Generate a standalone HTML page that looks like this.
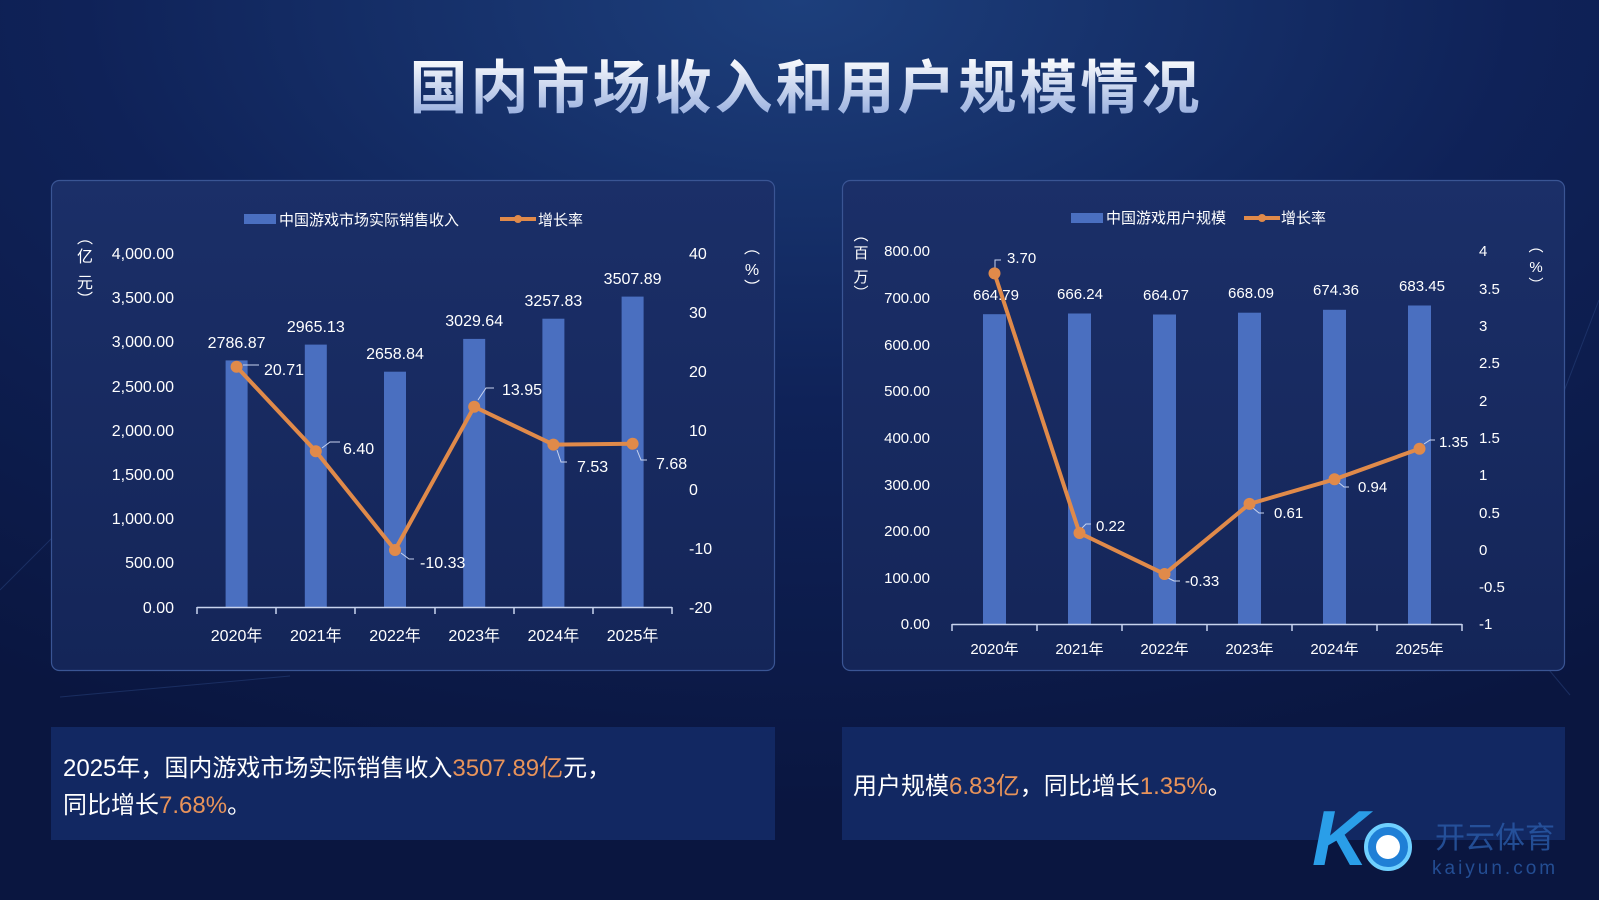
<!DOCTYPE html>
<html><head><meta charset="utf-8"><style>
html,body{margin:0;padding:0;width:1599px;height:900px;overflow:hidden;background:#0b1845;}
svg{display:block;font-family:"Liberation Sans","Noto Sans CJK SC",sans-serif;}
</style></head><body>
<svg width="1599" height="900" viewBox="0 0 1599 900" xmlns="http://www.w3.org/2000/svg">
<defs>
<radialGradient id="bg" cx="0.5" cy="0" r="0.9">
<stop offset="0" stop-color="#1d3f7c"/><stop offset="0.5" stop-color="#0f2258"/><stop offset="1" stop-color="#0a1640"/>
</radialGradient>
<linearGradient id="tt" x1="0" y1="0" x2="0" y2="1">
<stop offset="0" stop-color="#ffffff"/><stop offset="1" stop-color="#8fa8dc"/>
</linearGradient>
<linearGradient id="pn" x1="0" y1="0" x2="0" y2="1">
<stop offset="0" stop-color="#1b2f68"/><stop offset="1" stop-color="#142558"/>
</linearGradient>
</defs>
<rect width="1599" height="900" fill="url(#bg)"/>
<g stroke="#2a4580" stroke-width="1" opacity="0.5">
<line x1="0" y1="590" x2="110" y2="480"/><line x1="60" y1="697" x2="290" y2="676"/><line x1="1530" y1="480" x2="1599" y2="300"/><line x1="1440" y1="540" x2="1570" y2="695"/>
</g>
<text x="806" y="108" text-anchor="middle" font-size="58" font-weight="bold" fill="url(#tt)" letter-spacing="3">国内市场收入和用户规模情况</text>

<!-- Left panel -->
<rect x="51.5" y="180.5" width="723" height="490" rx="8" fill="url(#pn)" stroke="#3a5594" stroke-width="1.2"/>
<rect x="244" y="214" width="32" height="10" fill="#4a6fc0"/>
<text x="279" y="225" font-size="15" fill="#fff">中国游戏市场实际销售收入</text>
<line x1="500" y1="219" x2="536" y2="219" stroke="#e08a4a" stroke-width="4"/><circle cx="518" cy="219" r="4" fill="#e08a4a"/>
<text x="538" y="225" font-size="15" fill="#fff">增长率</text>
<g font-size="16" fill="#fff" text-anchor="end">
<text x="174" y="259">4,000.00</text><text x="174" y="303">3,500.00</text><text x="174" y="347">3,000.00</text><text x="174" y="392">2,500.00</text><text x="174" y="436">2,000.00</text><text x="174" y="480">1,500.00</text><text x="174" y="524">1,000.00</text><text x="174" y="568">500.00</text><text x="174" y="613">0.00</text>
</g>
<g font-size="16" fill="#fff">
<text x="689" y="259">40</text><text x="689" y="318">30</text><text x="689" y="377">20</text><text x="689" y="436">10</text><text x="689" y="495">0</text><text x="689" y="554">-10</text><text x="689" y="613">-20</text>
</g>
<g font-size="16" fill="#fff" text-anchor="middle">
<text x="85" y="243">︵</text><text x="85" y="262">亿</text><text x="85" y="288">元</text><text x="85" y="305">︶</text>
<text x="752" y="253">︵</text><text x="752" y="275">%</text><text x="752" y="293">︶</text>
</g>
<g fill="#4a6fc0">
<rect x="225.6" y="360.4" width="22" height="246.6"/><rect x="304.8" y="344.6" width="22" height="262.4"/><rect x="384" y="371.7" width="22" height="235.3"/><rect x="463.2" y="338.9" width="22" height="268.1"/><rect x="542.4" y="318.7" width="22" height="288.3"/><rect x="621.6" y="296.6" width="22" height="310.4"/>
</g>
<line x1="197" y1="607.5" x2="672" y2="607.5" stroke="#c8d3ee" stroke-width="1.5"/>
<g stroke="#c8d3ee" stroke-width="1.5"><line x1="197" y1="607" x2="197" y2="614"/><line x1="276" y1="607" x2="276" y2="614"/><line x1="355" y1="607" x2="355" y2="614"/><line x1="435" y1="607" x2="435" y2="614"/><line x1="514" y1="607" x2="514" y2="614"/><line x1="593" y1="607" x2="593" y2="614"/><line x1="672" y1="607" x2="672" y2="614"/></g>
<g font-size="16" fill="#fff" text-anchor="middle">
<text x="236.6" y="641">2020年</text><text x="315.8" y="641">2021年</text><text x="395" y="641">2022年</text><text x="474.2" y="641">2023年</text><text x="553.4" y="641">2024年</text><text x="632.6" y="641">2025年</text>
<text x="236.6" y="348">2786.87</text><text x="315.8" y="332">2965.13</text><text x="395" y="359">2658.84</text><text x="474.2" y="326">3029.64</text><text x="553.4" y="306">3257.83</text><text x="632.6" y="284">3507.89</text>
</g>
<g stroke="#c8d3ee" stroke-width="1" fill="none">
<path d="M243,365 h16"/><path d="M322,448 l8,-6 h10"/><path d="M401,553 l8,6 h5"/><path d="M478,400 l8,-12 h8"/><path d="M557,450 l4,12 h6"/><path d="M637,450 l4,10 h6"/>
</g>
<polyline points="236.6,366.8 315.8,451.2 395,550 474.2,406.7 553.4,444.6 632.6,443.7" fill="none" stroke="#e08a4a" stroke-width="4"/>
<g fill="#e08a4a"><circle cx="236.6" cy="366.8" r="6"/><circle cx="315.8" cy="451.2" r="6"/><circle cx="395" cy="550" r="6"/><circle cx="474.2" cy="406.7" r="6"/><circle cx="553.4" cy="444.6" r="6"/><circle cx="632.6" cy="443.7" r="6"/></g>
<g font-size="16" fill="#fff">
<text x="264" y="375">20.71</text><text x="343" y="454">6.40</text><text x="420" y="568">-10.33</text><text x="502" y="395">13.95</text><text x="577" y="472">7.53</text><text x="656" y="469">7.68</text>
</g>

<!-- Right panel -->
<rect x="842.5" y="180.5" width="722" height="490" rx="8" fill="url(#pn)" stroke="#3a5594" stroke-width="1.2"/>
<rect x="1071" y="213" width="32" height="10" fill="#4a6fc0"/>
<text x="1106" y="223" font-size="15" fill="#fff">中国游戏用户规模</text>
<line x1="1244" y1="218" x2="1280" y2="218" stroke="#e08a4a" stroke-width="4"/><circle cx="1262" cy="218" r="4" fill="#e08a4a"/>
<text x="1281" y="223" font-size="15" fill="#fff">增长率</text>
<g font-size="15" fill="#fff" text-anchor="end">
<text x="930" y="256">800.00</text><text x="930" y="303">700.00</text><text x="930" y="350">600.00</text><text x="930" y="396">500.00</text><text x="930" y="443">400.00</text><text x="930" y="490">300.00</text><text x="930" y="536">200.00</text><text x="930" y="583">100.00</text><text x="930" y="629">0.00</text>
</g>
<g font-size="15" fill="#fff">
<text x="1479" y="256">4</text><text x="1479" y="294">3.5</text><text x="1479" y="331">3</text><text x="1479" y="368">2.5</text><text x="1479" y="406">2</text><text x="1479" y="443">1.5</text><text x="1479" y="480">1</text><text x="1479" y="518">0.5</text><text x="1479" y="555">0</text><text x="1479" y="592">-0.5</text><text x="1479" y="629">-1</text>
</g>
<g font-size="15" fill="#fff" text-anchor="middle">
<text x="861" y="240">︵</text><text x="861" y="258">百</text><text x="861" y="282">万</text><text x="861" y="298">︶</text>
<text x="1536" y="251">︵</text><text x="1536" y="272">%</text><text x="1536" y="290">︶</text>
</g>
<g fill="#4a6fc0">
<rect x="983" y="314.2" width="23" height="309.8"/><rect x="1068" y="313.5" width="23" height="310.5"/><rect x="1153" y="314.5" width="23" height="309.5"/><rect x="1238" y="312.7" width="23" height="311.3"/><rect x="1323" y="309.8" width="23" height="314.2"/><rect x="1408" y="305.5" width="23" height="318.5"/>
</g>
<line x1="952" y1="624.5" x2="1462" y2="624.5" stroke="#c8d3ee" stroke-width="1.5"/>
<g stroke="#c8d3ee" stroke-width="1.5"><line x1="952" y1="624" x2="952" y2="631"/><line x1="1037" y1="624" x2="1037" y2="631"/><line x1="1122" y1="624" x2="1122" y2="631"/><line x1="1207" y1="624" x2="1207" y2="631"/><line x1="1292" y1="624" x2="1292" y2="631"/><line x1="1377" y1="624" x2="1377" y2="631"/><line x1="1462" y1="624" x2="1462" y2="631"/></g>
<g font-size="15" fill="#fff" text-anchor="middle">
<text x="994.5" y="654">2020年</text><text x="1079.5" y="654">2021年</text><text x="1164.5" y="654">2022年</text><text x="1249.5" y="654">2023年</text><text x="1334.5" y="654">2024年</text><text x="1419.5" y="654">2025年</text>
<text x="996" y="300">664.79</text><text x="1080" y="299">666.24</text><text x="1166" y="300">664.07</text><text x="1251" y="298">668.09</text><text x="1336" y="295">674.36</text><text x="1422" y="291">683.45</text>
</g>
<g stroke="#c8d3ee" stroke-width="1" fill="none">
<path d="M995,268 v-8 h6"/><path d="M1082,528 l4,-4 h5"/><path d="M1168,578 l6,3 h6"/><path d="M1253,508 l6,5 h5"/><path d="M1338,482 l6,5 h5"/><path d="M1424,444 l6,-4 h5"/>
</g>
<polyline points="994.5,273.4 1079.5,533 1164.5,574 1249.5,503.9 1334.5,479.3 1419.5,448.7" fill="none" stroke="#e08a4a" stroke-width="4"/>
<g fill="#e08a4a"><circle cx="994.5" cy="273.4" r="6"/><circle cx="1079.5" cy="533" r="6"/><circle cx="1164.5" cy="574" r="6"/><circle cx="1249.5" cy="503.9" r="6"/><circle cx="1334.5" cy="479.3" r="6"/><circle cx="1419.5" cy="448.7" r="6"/></g>
<g font-size="15" fill="#fff">
<text x="1007" y="263">3.70</text><text x="1096" y="531">0.22</text><text x="1185" y="586">-0.33</text><text x="1274" y="518">0.61</text><text x="1358" y="492">0.94</text><text x="1439" y="447">1.35</text>
</g>

<!-- text boxes -->
<rect x="51" y="727" width="724" height="113" fill="#132a66" opacity="0.9"/>
<text x="63" y="776" font-size="24" fill="#fff">2025年，国内游戏市场实际销售收入<tspan fill="#e8935a">3507.89亿</tspan>元，</text>
<text x="63" y="813" font-size="24" fill="#fff">同比增长<tspan fill="#e8935a">7.68%</tspan>。</text>
<rect x="842" y="727" width="723" height="113" fill="#132a66" opacity="0.9"/>
<text x="853" y="794" font-size="24" fill="#fff">用户规模<tspan fill="#e8935a">6.83亿</tspan>，同比增长<tspan fill="#e8935a">1.35%</tspan>。</text>

<!-- logo -->
<text x="1312" y="865" font-size="78" font-style="italic" font-weight="bold" fill="#2a9ee8">K</text>
<circle cx="1388" cy="847" r="22" fill="#1f7fd6" stroke="#6fd0ff" stroke-width="4"/>
<circle cx="1388" cy="847" r="12" fill="#ffffff"/>
<text x="1435" y="848" font-size="30" fill="#2a5ba8" opacity="0.8">开云体育</text>
<text x="1432" y="874" font-size="19" fill="#2a5ba8" opacity="0.8" letter-spacing="3">kaiyun.com</text>
</svg>
</body></html>
